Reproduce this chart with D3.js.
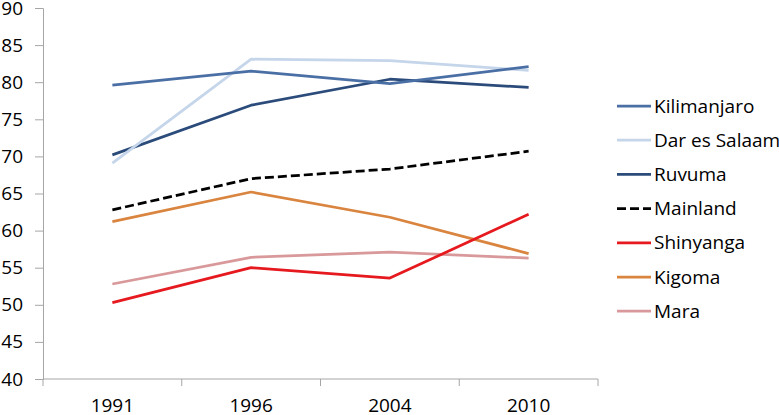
<!DOCTYPE html>
<html>
<head>
<meta charset="utf-8">
<script src="https://cdn.jsdelivr.net/npm/d3@7/dist/d3.min.js"></script>
<style>
html,body{margin:0;padding:0;background:#fff;}
svg{display:block;}
text{font-family:"Open Sans",sans-serif;fill:#000;}
</style>
</head>
<body>
<svg id="chart" width="779" height="415"></svg>
<script>
const years = ["1991", "1996", "2004", "2010"];
const yTicks = [40, 45, 50, 55, 60, 65, 70, 75, 80, 85, 90];
const seriesNames = ["Kilimanjaro", "Dar es Salaam", "Ruvuma", "Mainland", "Shinyanga", "Kigoma", "Mara"];
const kilimanjaro = [79.6, 81.5, 79.8, 82.1];
const darEsSalaam = [69.1, 83.1, 82.9, 81.6];
const ruvuma = [70.2, 76.9, 80.4, 79.3];
const mainland = [62.8, 67.0, 68.3, 70.7];
const shinyanga = [50.3, 55.0, 53.6, 62.2];
const kigoma = [61.2, 65.2, 61.8, 56.9];
const mara = [52.8, 56.4, 57.1, 56.3];
const seriesColors = ["#4A6FA5", "#C5D5EA", "#2B4B7A", "#000000", "#E5191E", "#D9853F", "#D9999A"];

const seriesValues = [kilimanjaro, darEsSalaam, ruvuma, mainland, shinyanga, kigoma, mara];
const series = seriesNames.map((n, i) => ({
  name: n, values: seriesValues[i], color: seriesColors[i], dashed: n === "Mainland"
}));

const svg = d3.select("#chart");
const mLeft = 43, mRight = 598, mTop = 8, mBottom = 379;

const x = d3.scaleBand().domain(years).range([mLeft, mRight]);
const y = d3.scaleLinear().domain([40, 90]).range([mBottom, mTop]);

const axisColor = "#A6A6A6";

// Y axis
const yAxis = svg.append("g").attr("transform", `translate(${mLeft},0)`)
  .call(d3.axisLeft(y).tickValues(yTicks).tickSize(8).tickPadding(12).tickFormat(d3.format("d")));
yAxis.select(".domain").attr("stroke", axisColor).attr("stroke-width", 1);
yAxis.selectAll(".tick line").attr("stroke", axisColor);
yAxis.selectAll(".tick text").attr("font-size", 19).attr("font-family", "Open Sans").attr("fill", "#000");

// X axis
const xAxis = svg.append("g").attr("transform", `translate(0,${mBottom})`)
  .call(d3.axisBottom(x).tickSize(0).tickPadding(20));
xAxis.select(".domain").attr("d", `M${mLeft},0H${mRight}`).attr("stroke", axisColor).attr("stroke-width", 1);
xAxis.selectAll(".tick text").attr("font-size", 19).attr("font-family", "Open Sans").attr("fill", "#000");
const bounds = [mLeft].concat(years.map(yr => x(yr) + x.bandwidth()));
xAxis.selectAll(".bound").data(bounds).enter().append("line")
  .attr("class", "bound")
  .attr("x1", d => d).attr("x2", d => d).attr("y1", 0).attr("y2", 7)
  .attr("stroke", axisColor).attr("stroke-width", 1);

// Lines
const line = d3.line()
  .x((d, i) => x(years[i]) + x.bandwidth() / 2)
  .y(d => y(d));

const drawOrder = ["Mara", "Kigoma", "Shinyanga", "Mainland", "Ruvuma", "Dar es Salaam", "Kilimanjaro"];
svg.append("g").selectAll("path").data(drawOrder.map(n => series.find(s => s.name === n))).enter()
  .append("path")
  .attr("d", d => line(d.values))
  .attr("fill", "none")
  .attr("stroke", d => d.color)
  .attr("stroke-width", 2.75)
  .attr("stroke-linejoin", "round")
  .attr("stroke-dasharray", d => d.dashed ? "9,4" : null);

// Legend
const legend = svg.append("g");
const lg = legend.selectAll("g").data(series).enter().append("g")
  .attr("transform", (d, i) => `translate(617,${106 + i * 34.2})`);
lg.append("line").attr("x1", 0).attr("x2", 34).attr("y1", 0).attr("y2", 0)
  .attr("stroke", d => d.color).attr("stroke-width", 2.75)
  .attr("stroke-dasharray", d => d.dashed ? "9,4" : null);
lg.append("text").attr("x", 37).attr("y", 0).attr("dy", "0.35em")
  .attr("font-size", 19).text(d => d.name);
</script>
</body>
</html>
